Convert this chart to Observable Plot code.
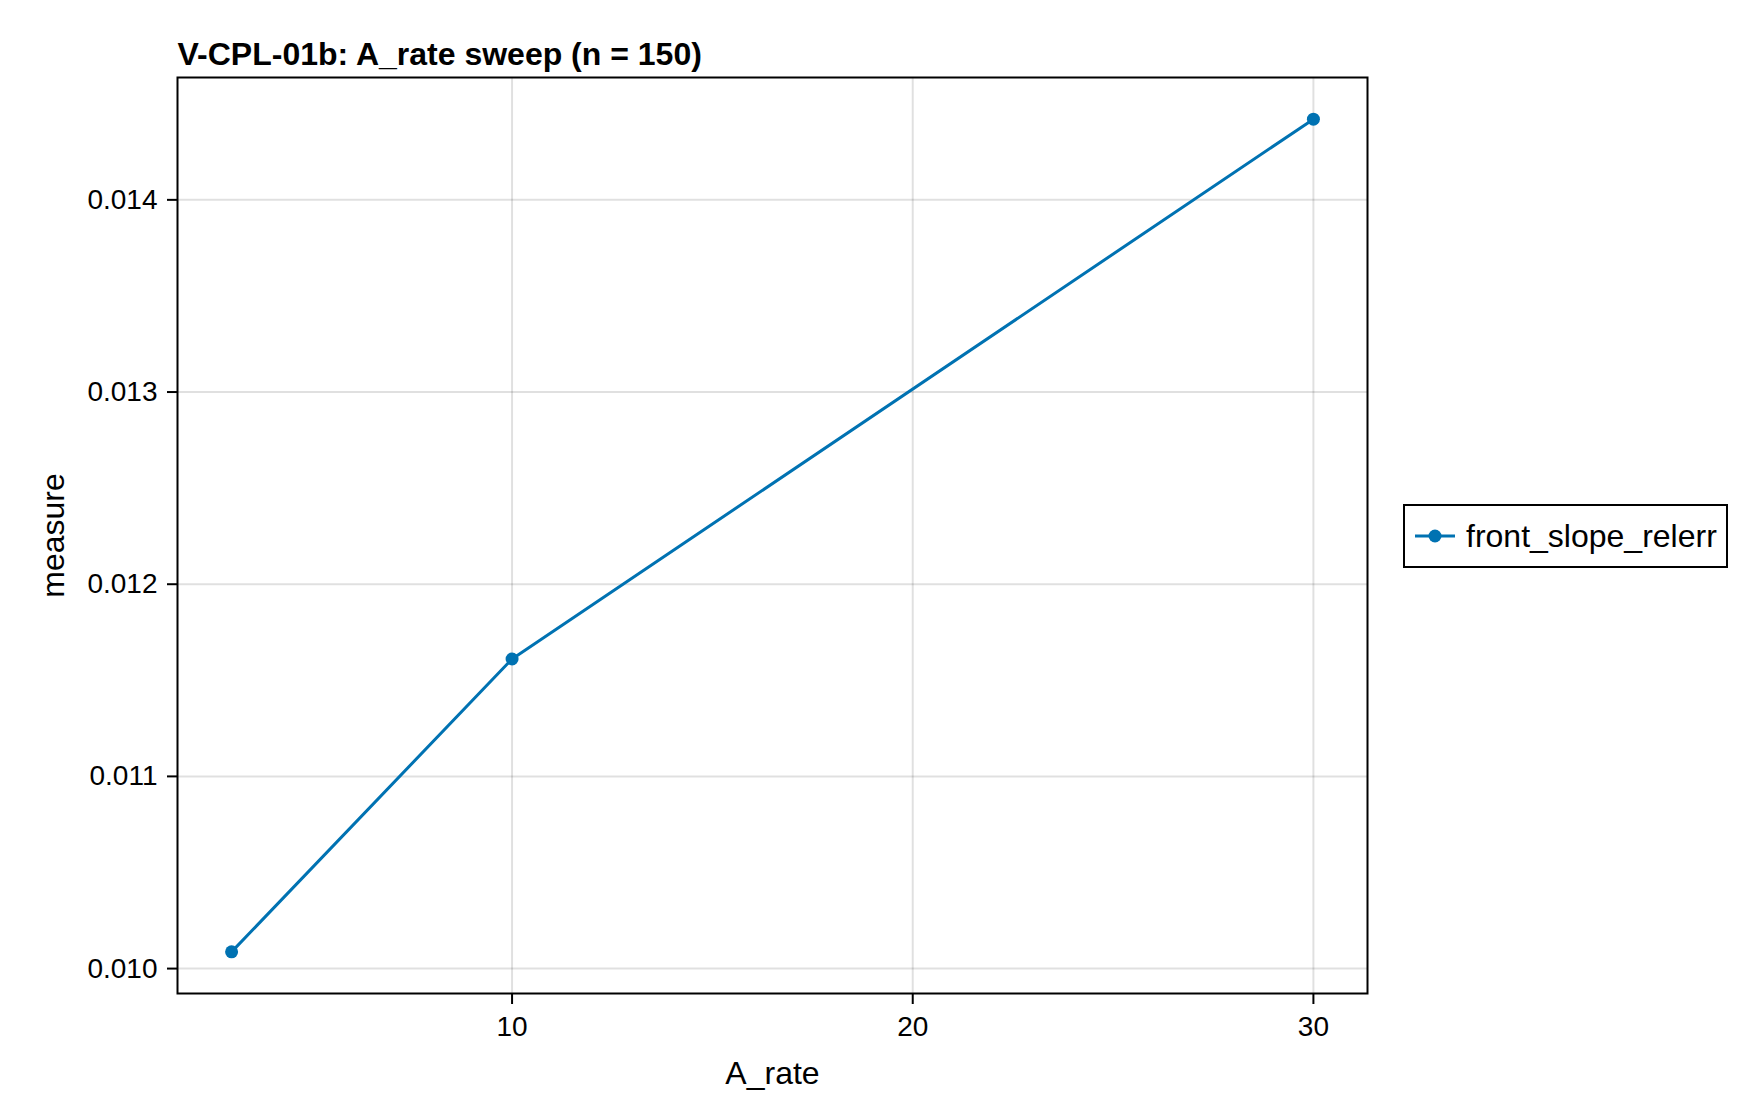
<!DOCTYPE html>
<html>
<head>
<meta charset="utf-8">
<script src="https://cdn.jsdelivr.net/npm/d3@7"></script>
<script src="https://cdn.jsdelivr.net/npm/@observablehq/plot@0.6"></script>
<style>
  html, body { margin: 0; padding: 0; background: white; }
  #wrap { position: relative; width: 1760px; height: 1120px; font-family: "Liberation Sans", Arial, sans-serif; }
  #legend { position: absolute; left: 1403px; top: 504px; width: 325px; height: 64px; box-sizing: border-box;
    border: 2px solid black; display: flex; align-items: center; font-size: 32px; color: black; background: white; white-space: nowrap; }
  #legend svg { margin-left: 10px; margin-right: 11px; flex: none; }
</style>
</head>
<body>
<div id="wrap"></div>
<script>
const titleText = "V-CPL-01b: A_rate sweep (n = 150)";
const xLabel = "A_rate";
const yLabel = "measure";
const seriesName = "front_slope_relerr";
const aRate = [3, 10, 30];
const measure = [0.010087, 0.011611, 0.014420];
const xTicks = [10, 20, 30];
const yTicks = [0.010, 0.011, 0.012, 0.013, 0.014];
const color = "#0072B2";

const data = aRate.map((x, i) => ({x, y: measure[i]}));

const xPad = (d3.max(aRate) - d3.min(aRate)) * 0.05;
const yPad = (d3.max(measure) - d3.min(measure)) * 0.05;

const chart = Plot.plot({
  width: 1760,
  height: 1120,
  marginLeft: 177,
  marginRight: 393,
  marginTop: 77,
  marginBottom: 127,
  style: {fontFamily: "Liberation Sans, Arial, sans-serif", fontSize: "28px", color: "black", background: "white", overflow: "visible"},
  x: {domain: [d3.min(aRate) - xPad, d3.max(aRate) + xPad]},
  y: {domain: [d3.min(measure) - yPad, d3.max(measure) + yPad]},
  marks: [
    Plot.gridX(xTicks, {stroke: "#000", strokeOpacity: 0.12, strokeWidth: 2}),
    Plot.gridY(yTicks, {stroke: "#000", strokeOpacity: 0.12, strokeWidth: 2}),
    Plot.axisX({ticks: xTicks, tickSize: 11, tickPadding: 12, strokeWidth: 2, label: null, tickFormat: d3.format("d")}),
    Plot.axisY({ticks: yTicks, tickSize: 10, tickPadding: 10, strokeWidth: 2, label: null, tickFormat: d3.format(".3f")}),
    Plot.frame({stroke: "black", strokeWidth: 2}),
    Plot.line(data, {x: "x", y: "y", stroke: color, strokeWidth: 3}),
    Plot.dot(data, {x: "x", y: "y", fill: color, r: 6.5}),
    Plot.text([titleText], {frameAnchor: "top-left", textAnchor: "start", lineAnchor: "middle", dy: -23, fontWeight: "bold", fontSize: 32}),
    Plot.text([yLabel], {frameAnchor: "left", textAnchor: "middle", lineAnchor: "middle", rotate: -90, dx: -124, fontSize: 32}),
    Plot.text([xLabel], {frameAnchor: "bottom", textAnchor: "middle", lineAnchor: "middle", dy: 80, fontSize: 32})
  ]
});
document.getElementById("wrap").appendChild(chart);

const legend = document.createElement("div");
legend.id = "legend";
legend.innerHTML = `<svg width="40" height="20"><line x1="0" y1="10" x2="40" y2="10" stroke="${color}" stroke-width="3"/><circle cx="20" cy="10" r="6.5" fill="${color}"/></svg><span></span>`;
legend.querySelector("span").textContent = seriesName;
document.getElementById("wrap").appendChild(legend);
</script>
</body>
</html>
